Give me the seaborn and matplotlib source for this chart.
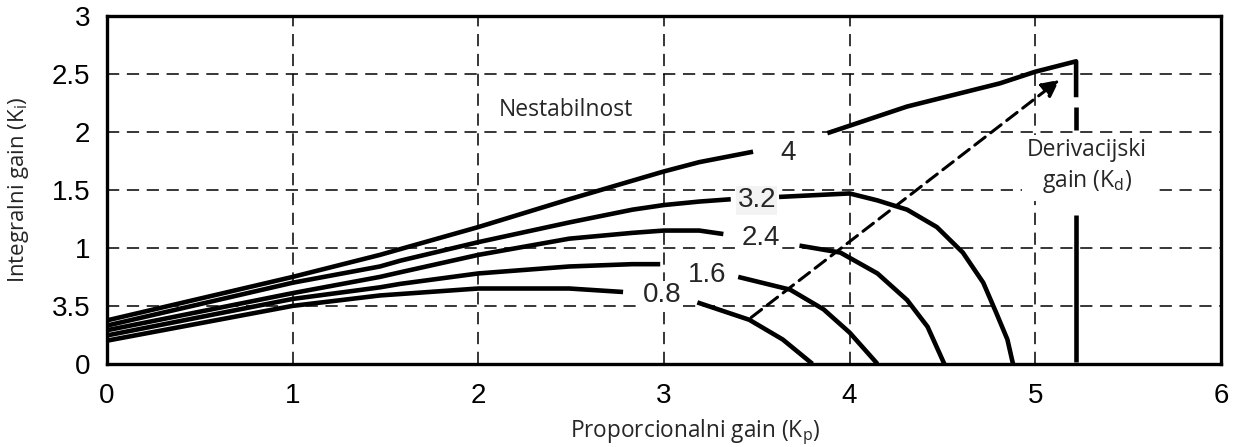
import seaborn as sns
import pandas as pd
import matplotlib.pyplot as plt

sns.set_theme(style="white")
plt.rcParams["font.family"] = ["Liberation Sans", "DejaVu Sans"]
plt.rcParams["mathtext.fontset"] = "custom"
plt.rcParams["mathtext.rm"] = "Open Sans"

# Krivulje Kd (svaka prekinuta oznakom), očitano sa slike
kd_labels = ["4", "3.2", "2.4", "1.6", "0.8"]

kp_4a = [0, 1, 1.47, 1.58, 2, 2.49, 2.83, 3.0, 3.19, 3.48]
ki_4a = [0.375, 0.75, 0.94, 0.99, 1.18, 1.42, 1.58, 1.66, 1.74, 1.83]
kp_4b = [3.88, 4.31, 4.81, 5.0, 5.22, 5.22]
ki_4b = [1.99, 2.22, 2.42, 2.52, 2.61, 2.30]

kp_32a = [0, 1, 1.47, 1.58, 2, 2.49, 2.83, 3.0, 3.19, 3.36]
ki_32a = [0.33, 0.70, 0.84, 0.89, 1.05, 1.22, 1.33, 1.37, 1.40, 1.42]
kp_32b = [3.62, 4.0, 4.15, 4.31, 4.47, 4.61, 4.72, 4.79, 4.85, 4.88]
ki_32b = [1.44, 1.47, 1.41, 1.33, 1.18, 0.96, 0.70, 0.44, 0.21, 0.0]

kp_24a = [0, 1, 1.47, 1.58, 2, 2.49, 2.83, 3.0, 3.19, 3.32]
ki_24a = [0.29, 0.61, 0.75, 0.79, 0.94, 1.08, 1.13, 1.15, 1.15, 1.12]
kp_24b = [3.73, 3.95, 4.15, 4.31, 4.42, 4.51]
ki_24b = [1.02, 0.96, 0.78, 0.55, 0.32, 0.0]

kp_16a = [0, 1, 1.47, 1.58, 2, 2.49, 2.83, 2.98]
ki_16a = [0.245, 0.56, 0.66, 0.69, 0.78, 0.84, 0.86, 0.86]
kp_16b = [3.40, 3.68, 3.86, 4.0, 4.15]
ki_16b = [0.75, 0.64, 0.47, 0.27, 0.0]

kp_08a = [0, 1, 1.47, 2, 2.49, 2.78]
ki_08a = [0.20, 0.50, 0.59, 0.65, 0.65, 0.62]
kp_08b = [3.18, 3.46, 3.64, 3.80]
ki_08b = [0.53, 0.38, 0.21, 0.0]

# vertikalna linija (Kd os) s prekidom za tekst
kp_v1 = [5.22, 5.22]
ki_v1 = [2.22, 2.02]
kp_v2 = [5.22, 5.22]
ki_v2 = [1.28, 0.02]

# položaji oznaka krivulja
lab_kp = [3.67, 3.50, 3.52, 3.23, 2.99]
lab_ki = [1.82, 1.41, 1.09, 0.77, 0.59]

# strelica
arrow_from = (3.47, 0.40)
arrow_to = (5.13, 2.45)

yticks = [0, 0.5, 1, 1.5, 2, 2.5, 3]
ytick_labels = ["0", "3.5", "1", "1.5", "2", "2.5", "3"]

segs = [(kp_4a, ki_4a), (kp_4b, ki_4b), (kp_32a, ki_32a), (kp_32b, ki_32b),
        (kp_24a, ki_24a), (kp_24b, ki_24b), (kp_16a, ki_16a), (kp_16b, ki_16b),
        (kp_08a, ki_08a), (kp_08b, ki_08b), (kp_v1, ki_v1), (kp_v2, ki_v2)]
df = pd.concat([pd.DataFrame({"kp": x, "ki": y, "seg": i}) for i, (x, y) in enumerate(segs)],
               ignore_index=True)

fig = plt.figure(figsize=(12.38, 4.47), dpi=100)
ax = fig.add_axes([0.0864, 0.186, 0.8998, 0.778])

sns.lineplot(data=df, x="kp", y="ki", units="seg", estimator=None, sort=False,
             color="black", lw=3.3, ax=ax, legend=False,
             solid_capstyle="butt", solid_joinstyle="round")

ax.set_xlim(0, 6)
ax.set_ylim(0, 3)
ax.set_xticks(range(7))
ax.set_yticks(yticks)
ax.set_yticklabels(ytick_labels)
ax.grid(True, color="black", ls=(0, (8, 5)), lw=1.1)
ax.set_axisbelow(True)
for s in ax.spines.values():
    s.set_color("black")
    s.set_linewidth(2.4)
ax.tick_params(axis="y", direction="in", length=18, width=3, labelsize=20, pad=12, colors="black")
ax.tick_params(axis="x", length=0, labelsize=20, pad=14, colors="black")

for t, x, y in zip(kd_labels, lab_kp, lab_ki):
    fc = "#f3f3f3" if t == "3.2" else "white"
    ax.text(x, y, t, fontsize=20, ha="center", va="center",
            bbox=dict(facecolor=fc, edgecolor="none", pad=1))

ax.annotate("", xy=arrow_to, xytext=arrow_from,
            arrowprops=dict(arrowstyle="-|>", ls=(0, (4.3, 2.3)), lw=2.2,
                            color="black", mutation_scale=26, shrinkA=0, shrinkB=0))

ax.text(2.47, 2.19, "Nestabilnost", fontsize=16.5, ha="center", va="center", family="Open Sans",
        bbox=dict(facecolor="white", edgecolor="none", pad=2))
ax.text(5.28, 1.70, "Derivacijski\ngain (K$_{\\mathregular{d}}$)", fontsize=16.5, ha="center",
        va="center", family="Open Sans", linespacing=1.3,
        bbox=dict(facecolor="white", edgecolor="none", pad=4))

ax.set_xlabel("Proporcionalni gain (K$_{\\mathregular{p}}$)", fontsize=16.3, family="Open Sans")
ax.set_ylabel("Integralni gain (K$_{\\mathregular{i}}$)", fontsize=16, family="Open Sans")
ax.xaxis.set_label_coords(0.528, -0.155)
ax.yaxis.set_label_coords(-0.068, 0.5)

fig.savefig("out.png", dpi=100)
